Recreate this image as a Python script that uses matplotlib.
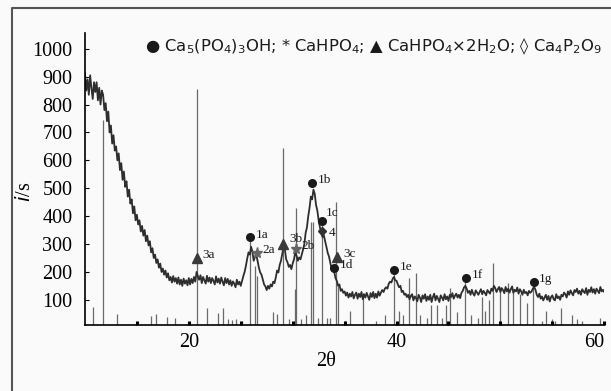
"""XRD pattern of a calcium phosphate sample with phase reflections marked."""
import matplotlib

matplotlib.use("Agg")
import matplotlib.pyplot as plt
from matplotlib.lines import Line2D

two_theta = [
    10.000, 10.125, 10.250, 10.375, 10.500, 10.625, 10.750, 10.875,
    11.000, 11.125, 11.250, 11.375, 11.500, 11.625, 11.750, 11.875,
    12.000, 12.125, 12.250, 12.375, 12.500, 12.625, 12.750, 12.875,
    13.000, 13.125, 13.250, 13.375, 13.500, 13.625, 13.750, 13.875,
    14.000, 14.125, 14.250, 14.375, 14.500, 14.625, 14.750, 14.875,
    15.000, 15.125, 15.250, 15.375, 15.500, 15.625, 15.750, 15.875,
    16.000, 16.125, 16.250, 16.375, 16.500, 16.625, 16.750, 16.875,
    17.000, 17.125, 17.250, 17.375, 17.500, 17.625, 17.750, 17.875,
    18.000, 18.125, 18.250, 18.375, 18.500, 18.625, 18.750, 18.875,
    19.000, 19.125, 19.250, 19.375, 19.500, 19.625, 19.750, 19.875,
    20.000, 20.125, 20.250, 20.375, 20.500, 20.625, 20.750, 20.875,
    21.000, 21.125, 21.250, 21.375, 21.500, 21.625, 21.750, 21.875,
    22.000, 22.125, 22.250, 22.375, 22.500, 22.625, 22.750, 22.875,
    23.000, 23.125, 23.250, 23.375, 23.500, 23.625, 23.750, 23.875,
    24.000, 24.125, 24.250, 24.375, 24.500, 24.625, 24.750, 24.875,
    25.000, 25.125, 25.250, 25.375, 25.500, 25.625, 25.750, 25.875,
    26.000, 26.125, 26.250, 26.375, 26.500, 26.625, 26.750, 26.875,
    27.000, 27.125, 27.250, 27.375, 27.500, 27.625, 27.750, 27.875,
    28.000, 28.125, 28.250, 28.375, 28.500, 28.625, 28.750, 28.875,
    29.000, 29.125, 29.250, 29.375, 29.500, 29.625, 29.750, 29.875,
    30.000, 30.125, 30.250, 30.375, 30.500, 30.625, 30.750, 30.875,
    31.000, 31.125, 31.250, 31.375, 31.500, 31.625, 31.750, 31.875,
    32.000, 32.125, 32.250, 32.375, 32.500, 32.625, 32.750, 32.875,
    33.000, 33.125, 33.250, 33.375, 33.500, 33.625, 33.750, 33.875,
    34.000, 34.125, 34.250, 34.375, 34.500, 34.625, 34.750, 34.875,
    35.000, 35.125, 35.250, 35.375, 35.500, 35.625, 35.750, 35.875,
    36.000, 36.125, 36.250, 36.375, 36.500, 36.625, 36.750, 36.875,
    37.000, 37.125, 37.250, 37.375, 37.500, 37.625, 37.750, 37.875,
    38.000, 38.125, 38.250, 38.375, 38.500, 38.625, 38.750, 38.875,
    39.000, 39.125, 39.250, 39.375, 39.500, 39.625, 39.750, 39.875,
    40.000, 40.125, 40.250, 40.375, 40.500, 40.625, 40.750, 40.875,
    41.000, 41.125, 41.250, 41.375, 41.500, 41.625, 41.750, 41.875,
    42.000, 42.125, 42.250, 42.375, 42.500, 42.625, 42.750, 42.875,
    43.000, 43.125, 43.250, 43.375, 43.500, 43.625, 43.750, 43.875,
    44.000, 44.125, 44.250, 44.375, 44.500, 44.625, 44.750, 44.875,
    45.000, 45.125, 45.250, 45.375, 45.500, 45.625, 45.750, 45.875,
    46.000, 46.125, 46.250, 46.375, 46.500, 46.625, 46.750, 46.875,
    47.000, 47.125, 47.250, 47.375, 47.500, 47.625, 47.750, 47.875,
    48.000, 48.125, 48.250, 48.375, 48.500, 48.625, 48.750, 48.875,
    49.000, 49.125, 49.250, 49.375, 49.500, 49.625, 49.750, 49.875,
    50.000, 50.125, 50.250, 50.375, 50.500, 50.625, 50.750, 50.875,
    51.000, 51.125, 51.250, 51.375, 51.500, 51.625, 51.750, 51.875,
    52.000, 52.125, 52.250, 52.375, 52.500, 52.625, 52.750, 52.875,
    53.000, 53.125, 53.250, 53.375, 53.500, 53.625, 53.750, 53.875,
    54.000, 54.125, 54.250, 54.375, 54.500, 54.625, 54.750, 54.875,
    55.000, 55.125, 55.250, 55.375, 55.500, 55.625, 55.750, 55.875,
    56.000, 56.125, 56.250, 56.375, 56.500, 56.625, 56.750, 56.875,
    57.000, 57.125, 57.250, 57.375, 57.500, 57.625, 57.750, 57.875,
    58.000, 58.125, 58.250, 58.375, 58.500, 58.625, 58.750, 58.875,
    59.000, 59.125, 59.250, 59.375, 59.500, 59.625, 59.750, 59.875,
    60.000,
]
intensity = [
    915, 850, 890, 835, 905, 860, 820, 880,
    845, 880, 815, 860, 800, 850, 835, 780,
    805, 740, 775, 700, 725, 660, 690, 635,
    650, 600, 625, 565, 590, 530, 560, 505,
    525, 470, 495, 445, 460, 410, 435, 385,
    405, 370, 385, 345, 365, 330, 350, 310,
    330, 295, 310, 270, 285, 250, 262, 232,
    245, 215, 230, 200, 212, 190, 205, 180,
    195, 170, 182, 162, 185, 165, 178, 158,
    180, 155, 172, 150, 176, 158, 170, 152,
    178, 155, 175, 160, 182, 165, 200, 185,
    172, 188, 160, 182, 170, 158, 186, 165,
    180, 160, 178, 168, 155, 184, 162, 176,
    158, 180, 165, 152, 178, 160, 175, 155,
    170, 150, 166, 158, 145, 172, 155, 165,
    150, 168, 185, 200, 222, 248, 270, 262,
    290, 272, 240, 255, 262, 238, 215, 198,
    190, 172, 155, 148, 135, 150, 140, 155,
    148, 165, 160, 180, 205, 198, 225, 240,
    265, 290, 280, 245, 235, 218, 225, 210,
    230, 245, 270, 258, 240, 252, 245, 262,
    280, 300, 340, 360, 400, 430, 470, 460,
    495, 480, 440, 420, 385, 360, 338, 325,
    332, 310, 290, 268, 255, 232, 210, 215,
    200, 178, 168, 150, 155, 132, 138, 125,
    130, 115, 126, 108, 122, 112, 128, 105,
    118, 126, 104, 122, 110, 128, 102, 120,
    108, 125, 112, 100, 124, 110, 128, 106,
    122, 108, 130, 115, 126, 135, 128, 140,
    145, 140, 158, 165, 162, 175, 182, 170,
    168, 155, 145, 150, 128, 132, 118, 122,
    110, 118, 102, 114, 120, 98, 112, 106,
    95, 118, 108, 92, 116, 104, 120, 96,
    112, 100, 118, 92, 110, 122, 98, 114,
    104, 92, 116, 108, 98, 120, 102, 112,
    96, 118, 110, 124, 104, 115, 122, 108,
    118, 106, 125, 132, 145, 150, 140, 125,
    132, 118, 136, 122, 115, 134, 126, 118,
    128, 138, 120, 132, 125, 116, 135, 128,
    122, 140, 132, 150, 142, 128, 138, 146,
    128, 142, 135, 124, 146, 130, 140, 126,
    138, 148, 125, 136, 130, 144, 122, 138,
    130, 118, 136, 124, 128, 116, 132, 125,
    130, 140, 146, 136, 118, 110, 122, 104,
    112, 98, 108, 118, 100, 114, 94, 110,
    116, 102, 98, 120, 106, 112, 100, 118,
    112, 126, 120, 108, 130, 118, 134, 124,
    116, 135, 128, 140, 122, 132, 118, 138,
    130, 124, 142, 118, 136, 128, 145, 126,
    138, 122, 140, 132, 124, 146, 130, 136,
    128,
]

# reference (stick) pattern: position and top of each line
stick_pos = [
    10.8, 11.7, 13.1, 16.4, 16.8, 17.9, 18.7, 20.8, 21.8, 22.8, 23.3, 23.8,
    24.2, 24.5, 25.1, 25.9, 26.4, 26.6, 28.1, 28.5, 29.1, 29.6, 30.2, 30.3,
    30.8, 31.3, 31.8, 32.0, 32.4, 32.8, 33.3, 33.6, 34.2, 34.4, 35.0, 35.5,
    36.8, 38.0, 38.9, 39.8, 40.2, 40.6, 41.2, 41.9, 42.3, 42.9, 43.3, 43.9,
    44.4, 44.8, 45.1, 45.8, 46.6, 47.2, 47.8, 48.2, 48.5, 48.9, 49.3, 50.0,
    50.7, 51.2, 51.9, 52.6, 53.1, 54.0, 54.4, 55.0, 55.3, 55.8, 56.9, 57.4,
    57.9, 59.6,
]
stick_top = [
    75, 745, 50, 42, 48, 40, 35, 855, 72, 52, 70, 30,
    28, 30, 25, 310, 220, 185, 58, 48, 645, 30, 140, 430,
    30, 45, 380, 380, 35, 372, 35, 35, 450, 150, 25, 60,
    125, 25, 45, 195, 60, 45, 178, 195, 45, 35, 80, 80,
    35, 80, 143, 55, 165, 45, 35, 110, 60, 100, 232, 146,
    160, 135, 120, 90, 146, 25, 60, 30, 25, 70, 45, 32,
    25, 35,
]

# phase markers: 1 hydroxyapatite, 2 CaHPO4, 3 brushite, 4 Ca4P2O9
peak_labels = ["3a", "1a", "2a", "3b", "2b", "1b", "1c", "4", "3c", "1d",
               "1e", "1f", "1g"]
peak_x = [20.8, 25.9, 26.6, 29.1, 30.3, 31.9, 32.8, 32.8, 34.3, 34.0,
          39.8, 46.7, 53.2]
peak_y = [249, 324, 267, 299, 282, 520, 381, 345, 253, 214,
          207, 178, 164]

MARKER = {"1": ("o", "#1a1a1a", 5.5), "2": ("*", "#666666", 8),
          "3": ("^", "#3a3a3a", 7), "4": ("D", "#333333", 4)}
LABEL_OFFSET = {"1c": (3, 6), "4": (5, -1), "3b": (4, 4)}

SERIF = "Liberation Serif"

plt.rcParams["mathtext.default"] = "regular"

fig = plt.figure(figsize=(6.11, 3.91), dpi=100, facecolor="#fafafa")
ax = fig.add_axes([0.139, 0.169, 0.850, 0.747])
ax.set_facecolor("none")

ymin, ymax = 10, 1057
ax.vlines(stick_pos, ymin, stick_top, color="#6a6a6a", linewidth=0.9, zorder=1)
ax.plot(two_theta, intensity, color="#2e2e2e", linewidth=1.3, zorder=2)

for lab, px, py in zip(peak_labels, peak_x, peak_y):
    m, c, s = MARKER[lab[0]]
    ax.plot(px, py, marker=m, color=c, markersize=s, linestyle="none", zorder=3)
    ax.annotate(lab, (px, py), textcoords="offset points",
                xytext=LABEL_OFFSET.get(lab, (4, 2)),
                ha="left", va="center", fontsize=9.5, family=SERIF,
                color="#1a1a1a", zorder=4)

ax.set_xlim(10, 60)
ax.set_ylim(ymin, ymax)
for side in ("top", "right"):
    ax.spines[side].set_visible(False)
for side in ("left", "bottom"):
    ax.spines[side].set_linewidth(1.2)

ax.set_xticks([20, 40, 60])
ax.set_xticks([15, 25, 30, 35, 45, 50, 55], minor=True)
ax.set_yticks(range(100, 1001, 100))
ax.tick_params(axis="x", which="both", direction="in", length=3, width=2.2, pad=6)
ax.tick_params(axis="y", direction="in", length=3, width=0.8, pad=9)
for t in ax.get_xticklabels() + ax.get_yticklabels():
    t.set_fontfamily(SERIF)
    t.set_fontsize(14.5)
ax.get_xticklabels()[-1].set_horizontalalignment("right")

fig.text(326 / 611, 1 - 362 / 391, "2θ", family=SERIF, fontsize=14.5,
         ha="center", va="center")
fig.text(25 / 611, 1 - 192 / 391, "$\\it{i}$/s", family=SERIF, fontsize=14.5,
         rotation=90, ha="center", va="center")

legend = ("● Ca$_5$(PO$_4$)$_3$OH; * CaHPO$_4$; ▲ CaHPO$_4$×2H$_2$O; "
          "◊ Ca$_4$P$_2$O$_9$")
fig.text(145 / 611, 1 - 47 / 391, legend, family="DejaVu Sans", fontsize=11.8,
         ha="left", va="center", color="#1a1a1a")

# outer frame (left and top edges visible in the picture)
fig.add_artist(Line2D([12 / 611, 12 / 611, 1.0], [0.0, 1 - 8 / 391, 1 - 8 / 391],
                      transform=fig.transFigure, color="#555555", linewidth=1.5))

fig.savefig("out.png", dpi=100, facecolor=fig.get_facecolor())
